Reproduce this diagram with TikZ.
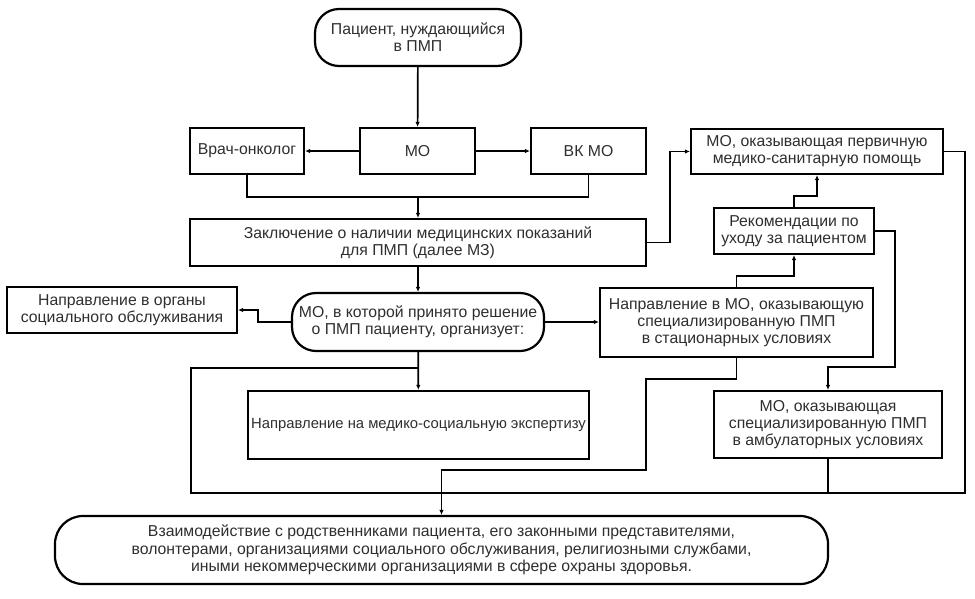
\documentclass[tikz,border=0pt]{standalone}
\usepackage{fontspec}
\setmainfont{Liberation Sans}
\usetikzlibrary{arrows.meta}
\newcommand{\fsmain}{\fontsize{15.8}{16.8}\selectfont}
\newcommand{\fsmse}{\fontsize{14.8}{17}\selectfont}
\newcommand{\fsbot}{\fontsize{15.8}{17.5}\selectfont}
\colorlet{txt}{black!82}
\tikzset{
  box/.style={draw=black, line width=2.2pt, inner sep=0pt, align=center, font=\fsmain, text=txt},
  stad/.style={box, rounded corners=24pt},
  conn/.style={line width=1.7pt},
  arr/.style={conn, -{Latex[length=5pt,width=4.5pt]}},
}
\begin{document}
\begin{tikzpicture}[x=1pt,y=-1pt]
\useasboundingbox (0,0) rectangle (975,598);
\node[stad, minimum width=206, minimum height=57] (pat) at (418,37.5) {Пациент, нуждающийся\\в ПМП};
\node[box, minimum width=115, minimum height=46] (mo) at (417.5,151) {МО};
\node[box, minimum width=114, minimum height=46] (vrach) at (247,151) {Врач-онколог};
\node[box, minimum width=115, minimum height=46] (vk) at (588.5,151) {ВК МО};
\node[box, minimum width=456, minimum height=47] (zakl) at (418,242.5) {Заключение о наличии медицинских показаний\\для ПМП (далее МЗ)};
\node[box, minimum width=252, minimum height=45] (perv) at (817,151.5) {МО, оказывающая первичную\\медико-санитарную помощь};
\node[box, minimum width=160, minimum height=46] (rek) at (794,231) {Рекомендации по\\уходу за пациентом};
\node[box, minimum width=230, minimum height=46] (org) at (122,310) {Направление в органы\\социального обслуживания};
\node[stad, minimum width=252, minimum height=58] (resh) at (418,322) {МО, в которой принято решение\\о ПМП пациенту, организует:};
\node[box, minimum width=273, minimum height=69] (stac) at (736.5,322.5) {Направление в МО, оказывающую\\специализированную ПМП\\в стационарных условиях};
\node[box, font=\fsmse, minimum width=341, minimum height=68] (mse) at (418.5,425) {Направление на медико-социальную экспертизу};
\node[box, minimum width=228, minimum height=67] (amb) at (828,424.5) {МО, оказывающая\\специализированную ПМП\\в амбулаторных условиях};
\node[stad, font=\fsbot, rounded corners=28pt, minimum width=773, minimum height=68] (bot) at (441.5,550) {Взаимодействие с родственниками пациента, его законными представителями,\\волонтерами, организациями социального обслуживания, религиозными службами,\\иными некоммерческими организациями в сфере охраны здоровья.};

\coordinate (j1) at (418,197);
\coordinate (j2) at (418,368);
\coordinate (lp) at (191,493);
\coordinate (rp) at (965,493);
\coordinate (rk) at (895,367);
\coordinate (st) at (646,470);

\draw[arr] (pat) -- (mo);
\draw[arr] (mo) -- (vrach);
\draw[arr] (mo) -- (vk);
\draw[conn] (vrach.south) -- (vrach.south |- j1) -- (vk.south |- j1) -- (vk.south);
\draw[arr] (j1) -- (zakl.north);
\draw[arr] (zakl.east) -- ++(23,0) |- (perv.west);
\draw[arr] (zakl) -- (resh);
\draw[arr] (resh.west) -- ++(-33,0) |- (org.east);
\draw[arr] (resh.east) -- (stac.west |- resh.east);
\draw[arr] (resh) -- (mse);
\draw[conn] (perv.east) -| (rp) -- (lp) |- (j2);
\draw[conn] (amb.south) -- (amb.south |- rp);
\draw[arr] (rek.north) -- ++(0,-11) -| (perv.south);
\draw[arr] (stac.north) -- ++(0,-11) -| (rek.south);
\draw[arr] (rek.east) -| (rk) -| (amb.north);
\draw[arr] (stac.south) -- ++(0,21) -| (st) -| (bot.north);
\end{tikzpicture}
\end{document}
